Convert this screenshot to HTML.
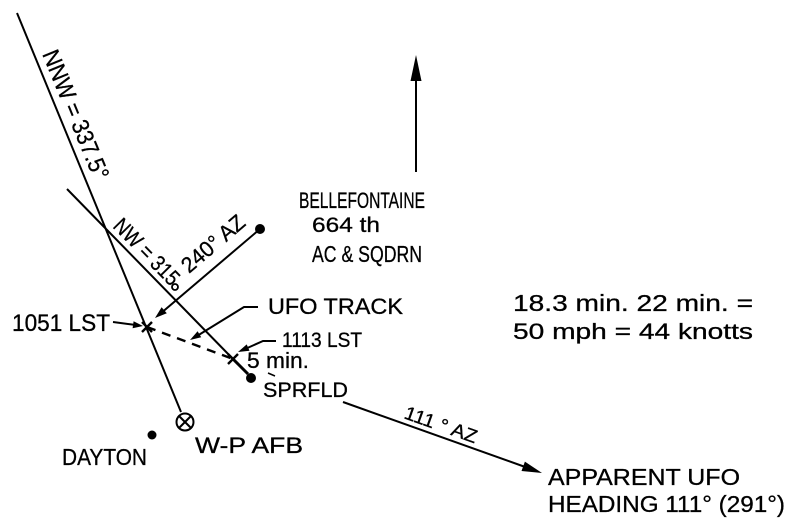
<!DOCTYPE html>
<html>
<head>
<meta charset="utf-8">
<style>
  html, body { margin:0; padding:0; background:#fff; }
  svg { display:block; }
  text { font-family: "Liberation Sans", "DejaVu Sans", sans-serif; fill:#000; stroke:#000; stroke-width:0.3; }
</style>
</head>
<body>
<svg width="800" height="531" viewBox="0 0 800 531" xmlns="http://www.w3.org/2000/svg">
  <rect x="0" y="0" width="800" height="531" fill="#fff"/>

  <!-- NNW line -->
  <line x1="17" y1="13" x2="181" y2="412" stroke="#000" stroke-width="2"/>
  <!-- NW line -->
  <line x1="67" y1="189" x2="233" y2="359" stroke="#000" stroke-width="2"/>
  <line x1="233" y1="359" x2="248" y2="374" stroke="#000" stroke-width="3"/>

  <!-- North arrow -->
  <line x1="416" y1="172" x2="416" y2="78" stroke="#000" stroke-width="2"/>
  <polygon points="416,55 410.5,81 421.5,81" fill="#000"/>

  <!-- 240 AZ arrow -->
  <line x1="260" y1="229" x2="160" y2="314" stroke="#000" stroke-width="2"/>
  <polygon points="155,318 166.8,313.3 161.6,307.2" fill="#000"/>

  <!-- 1051 LST leader -->
  <line x1="113" y1="322" x2="136" y2="325" stroke="#000" stroke-width="2"/>
  <polygon points="143,326 132.6,328.2 133.6,321.2" fill="#000"/>

  <!-- UFO TRACK leader -->
  <polyline points="258,307 244,307 197,336" fill="none" stroke="#000" stroke-width="2"/>
  <polygon points="190,340 201.2,337.3 197.6,331.3" fill="#000"/>

  <!-- 1113 LST leader -->
  <polyline points="276,341 263,341 244,349.5" fill="none" stroke="#000" stroke-width="2"/>
  <polygon points="238,352 249.5,350.8 246.7,344.4" fill="#000"/>

  <!-- 111 AZ arrow -->
  <line x1="343" y1="402" x2="528" y2="468" stroke="#000" stroke-width="2"/>
  <polygon points="542,473 521.5,471 524.9,461.6" fill="#000"/>

  <!-- Dashed UFO track -->
  <line x1="147" y1="327" x2="233" y2="359" stroke="#000" stroke-width="2.4" stroke-dasharray="9,7"/>

  <!-- X marks -->
  <line x1="142" y1="322" x2="152" y2="332" stroke="#000" stroke-width="2.4"/>
  <line x1="152" y1="322" x2="142" y2="332" stroke="#000" stroke-width="2.4"/>
  <line x1="228" y1="354" x2="238" y2="364" stroke="#000" stroke-width="2.4"/>
  <line x1="238" y1="354" x2="228" y2="364" stroke="#000" stroke-width="2.4"/>

  <!-- Dots -->
  <circle cx="260" cy="229" r="5" fill="#000"/>
  <circle cx="251" cy="378" r="5" fill="#000"/>
  <circle cx="152" cy="435" r="4.5" fill="#000"/>

  <!-- W-P AFB symbol -->
  <circle cx="185" cy="422" r="8.5" fill="none" stroke="#000" stroke-width="2"/>
  <line x1="179" y1="416" x2="191" y2="428" stroke="#000" stroke-width="2"/>
  <line x1="191" y1="416" x2="179" y2="428" stroke="#000" stroke-width="2"/>

  <!-- small tick under 5 min -->
  <line x1="268" y1="373" x2="275" y2="376" stroke="#000" stroke-width="1.5"/>

  <!-- Rotated labels -->
  <text transform="translate(42,54) rotate(67.6)" font-size="24" textLength="138" lengthAdjust="spacingAndGlyphs">NNW = 337.5°</text>
  <text transform="translate(112,227) rotate(45.5)" font-size="22" textLength="84" lengthAdjust="spacingAndGlyphs">NW = 315</text>
  <circle cx="175" cy="287" r="3" fill="none" stroke="#000" stroke-width="1.8"/>
  <text transform="translate(189,274) rotate(-40.5)" font-size="22" textLength="76" lengthAdjust="spacingAndGlyphs">240° AZ</text>
  <text transform="translate(403,418) rotate(19.6)" font-size="19" textLength="76" lengthAdjust="spacingAndGlyphs">111 ° AZ</text>

  <!-- Labels -->
  <text x="299" y="208" font-size="22" textLength="126" lengthAdjust="spacingAndGlyphs">BELLEFONTAINE</text>
  <text x="312" y="232" font-size="21" textLength="68" lengthAdjust="spacingAndGlyphs">664 th</text>
  <text x="312" y="262" font-size="23" textLength="110" lengthAdjust="spacingAndGlyphs">AC &amp; SQDRN</text>

  <text x="513" y="311" font-size="23" textLength="240" lengthAdjust="spacingAndGlyphs">18.3 min.  22 min. =</text>
  <text x="513" y="339" font-size="22" textLength="240" lengthAdjust="spacingAndGlyphs">50 mph = 44 knotts</text>

  <text x="12" y="331" font-size="24" textLength="98" lengthAdjust="spacingAndGlyphs">1051 LST</text>
  <text x="268" y="314" font-size="22" textLength="135" lengthAdjust="spacingAndGlyphs">UFO TRACK</text>
  <text x="282" y="347" font-size="21" textLength="80" lengthAdjust="spacingAndGlyphs">1113 LST</text>
  <text x="247" y="368" font-size="22" textLength="62" lengthAdjust="spacingAndGlyphs">5 min.</text>
  <text x="263" y="397" font-size="21" textLength="85" lengthAdjust="spacingAndGlyphs">SPRFLD</text>
  <text x="195" y="453" font-size="22" textLength="108" lengthAdjust="spacingAndGlyphs">W-P AFB</text>
  <text x="62" y="465" font-size="23" textLength="85" lengthAdjust="spacingAndGlyphs">DAYTON</text>

  <text x="548" y="485" font-size="23" textLength="192" lengthAdjust="spacingAndGlyphs">APPARENT UFO</text>
  <text x="548" y="512" font-size="23" textLength="237" lengthAdjust="spacingAndGlyphs">HEADING 111° (291°)</text>
</svg>
</body>
</html>
